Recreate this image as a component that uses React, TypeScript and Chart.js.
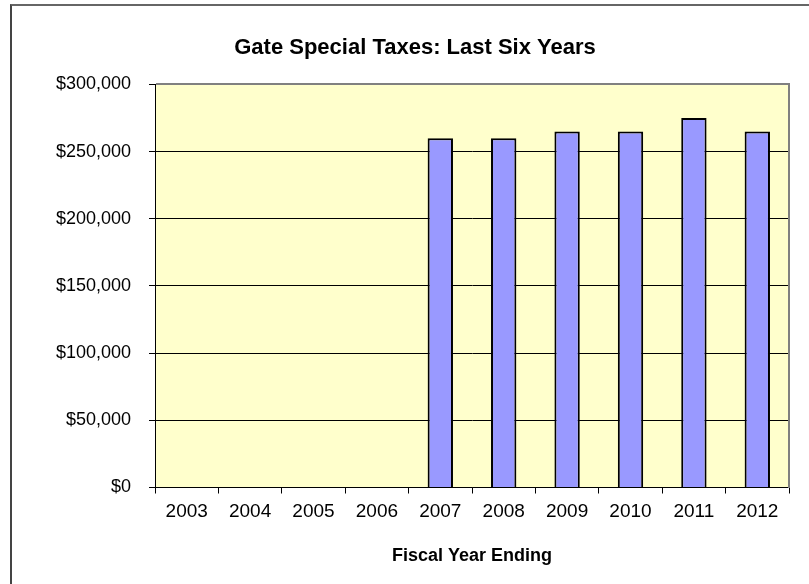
import React, { useEffect, useRef } from "react";
import { Chart, registerables } from "chart.js";

Chart.register(...registerables);

const categories = ["2003", "2004", "2005", "2006", "2007", "2008", "2009", "2010", "2011", "2012"];
const taxValues: (number | null)[] = [null, null, null, null, 260000, 260000, 265000, 265000, 275000, 265000];
const yMin = 0;
const yMax = 300000;
const yStep = 50000;
const chartTitle = "Gate Special Taxes: Last Six Years";
const xAxisTitle = "Fiscal Year Ending";

const FONT = "'Liberation Sans', Arial, Helvetica, sans-serif";

const plotFrame = {
  id: "plotFrame",
  beforeDraw(chart: any) {
    const { ctx, chartArea } = chart;
    const { left, top, right, bottom } = chartArea;
    ctx.save();
    ctx.fillStyle = "#FFFFCC";
    ctx.fillRect(left, top, right - left, bottom - top);
    ctx.restore();
  },
  afterDraw(chart: any) {
    const { ctx, chartArea } = chart;
    const { left, top, right, bottom } = chartArea;
    ctx.save();
    ctx.strokeStyle = "#808080";
    ctx.lineWidth = 2;
    ctx.beginPath();
    const t = Math.round(top);
    const r = Math.round(right);
    ctx.moveTo(Math.round(left) + 1, t);
    ctx.lineTo(r, t);
    ctx.lineTo(r, Math.round(bottom));
    ctx.stroke();
    ctx.restore();
  },
};

function BarChart() {
  const ref = useRef<HTMLCanvasElement | null>(null);
  useEffect(() => {
    if (!ref.current) return;
    const chart = new Chart(ref.current, {
      type: "bar",
      data: {
        labels: categories,
        datasets: [
          {
            label: "Gate Special Taxes",
            data: taxValues,
            backgroundColor: "#9999FF",
            borderColor: "#000000",
            borderWidth: 2,
            barPercentage: 0.4,
            categoryPercentage: 1,
          },
        ],
      },
      options: {
        animation: false,
        responsive: false,
        devicePixelRatio: 1,
        layout: { padding: { left: 41, right: 20, top: 0, bottom: 0 } },
        plugins: {
          legend: { display: false },
          tooltip: { enabled: false },
          title: {
            display: true,
            text: chartTitle,
            color: "#000",
            font: { family: FONT, size: 22, weight: "bold" },
            padding: { top: 35, bottom: 23 },
          },
        },
        scales: {
          x: {
            grid: {
              display: true,
              drawOnChartArea: false,
              drawTicks: true,
              tickLength: 6,
              color: "#000",
              offset: true,
            },
            border: { display: true, color: "#000", width: 1 },
            ticks: {
              color: "#000",
              font: { family: FONT, size: 19 },
              padding: 6.8,
              maxRotation: 0,
              autoSkip: false,
            },
            title: {
              display: true,
              text: xAxisTitle,
              color: "#000",
              font: { family: FONT, size: 18, weight: "bold" },
              padding: { top: 15.5, bottom: 17 },
            },
          },
          y: {
            min: yMin,
            max: yMax,
            grid: {
              color: "#000",
              lineWidth: 1,
              drawTicks: true,
              tickLength: 6,
            },
            border: { display: true, color: "#000", width: 1 },
            ticks: {
              stepSize: yStep,
              color: "#000",
              font: { family: FONT, size: 18 },
              padding: 18,
              callback: (v: any) => "$" + Number(v).toLocaleString("en-US"),
            },
            afterFit: (scale: any) => {
              scale.width = 114;
            },
          },
        },
      },
      plugins: [plotFrame],
    });
    return () => chart.destroy();
  }, []);
  return <canvas ref={ref} width={809} height={584} style={{ display: "block", width: 809, height: 584 }} />;
}

export default function App() {
  return (
    <div style={{ position: "fixed", left: 0, top: 0, width: 809, height: 584, overflow: "hidden", background: "#fff" }}>
      <BarChart />
      <div
        style={{
          position: "absolute",
          left: 10,
          top: 4,
          width: 900,
          height: 700,
          borderLeft: "2px solid #444",
          borderTop: "2px solid #666",
          pointerEvents: "none",
        }}
      />
    </div>
  );
}
